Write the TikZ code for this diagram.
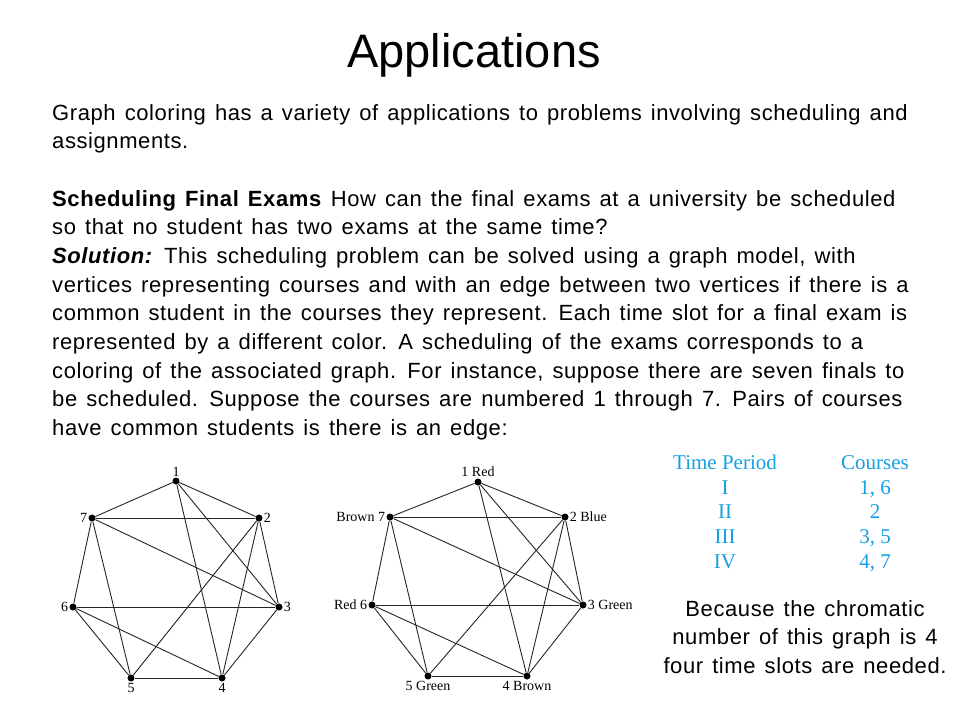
\documentclass[tikz,border=0pt]{standalone}
\usepackage{fontspec}
\setmainfont{Liberation Sans}
\newfontfamily\bodyfont[LetterSpace=2.7, WordSpace=1.35]{Liberation Sans}
\newfontfamily\tabfont{Liberation Serif}
\usetikzlibrary{positioning}
\definecolor{tblue}{RGB}{20,160,228}
\tikzstyle{vertex} = [circle, fill=black, inner sep=0pt, minimum size=7pt, label distance=1pt]
\tikzstyle{edge} = [draw=black!85, line width=0.9pt]
\tikzstyle{txtline} = [anchor=base west, inner sep=0pt, font=\bodyfont\fontsize{22}{25}\selectfont]
\tikzstyle{vlabel} = [font=\tabfont\fontsize{14}{16}\selectfont, inner sep=1pt]
\tikzstyle{tcell} = [anchor=base, inner sep=0pt, text=tblue, font=\tabfont\fontsize{21}{23}\selectfont]

\begin{document}
\begin{tikzpicture}[x=1pt, y=-1pt, every label/.style={vlabel}]
\useasboundingbox [fill=white] (0,0) rectangle (960,720);
\node (title) [anchor=base, inner sep=0pt, font=\fontsize{47}{50}\selectfont] at (474,67) {Applications};

% body text
\node (l1) [txtline] at (52,120) {Graph coloring has a variety of applications to problems involving scheduling and};
\node (l2) [txtline] at (52,148.7) {assignments.};
\node (l3) [txtline] at (52,206) {\textbf{Scheduling Final Exams} How can the final exams at a university be scheduled};
\node (l4) [txtline] at (52,234.7) {so that no student has two exams at the same time?};
\node (l5) [txtline] at (52,263.4) {\textbf{\textit{Solution:}} This scheduling problem can be solved using a graph model, with};
\node (l6) [txtline] at (52,292.1) {vertices representing courses and with an edge between two vertices if there is a};
\node (l7) [txtline] at (52,320.8) {common student in the courses they represent. Each time slot for a final exam is};
\node (l8) [txtline] at (52,349.5) {represented by a different color. A scheduling of the exams corresponds to a};
\node (l9) [txtline] at (52,378.2) {coloring of the associated graph. For instance, suppose there are seven finals to};
\node (l10) [txtline] at (52,406.9) {be scheduled. Suppose the courses are numbered 1 through 7. Pairs of courses};
\node (l11) [txtline] at (52,435.6) {have common students is there is an edge:};

% left graph
\node (g1) [vertex, label=above:1] at (176,481) {};
\node (g2) [vertex, label=right:2] at (259,518) {};
\node (g3) [vertex, label=right:3] at (279,607) {};
\node (g4) [vertex, label=below:4] at (222,678) {};
\node (g5) [vertex, label=below:5] at (131,678) {};
\node (g6) [vertex, label=left:6] at (73,607) {};
\node (g7) [vertex, label=left:7] at (92,518) {};
\draw [edge] (g1) -- (g2);
\draw [edge] (g1) -- (g3);
\draw [edge] (g1) -- (g4);
\draw [edge] (g1) -- (g7);
\draw [edge] (g2) -- (g3);
\draw [edge] (g2) -- (g4);
\draw [edge] (g2) -- (g5);
\draw [edge] (g2) -- (g7);
\draw [edge] (g3) -- (g4);
\draw [edge] (g3) -- (g6);
\draw [edge] (g3) -- (g7);
\draw [edge] (g4) -- (g5);
\draw [edge] (g4) -- (g6);
\draw [edge] (g5) -- (g6);
\draw [edge] (g5) -- (g7);
\draw [edge] (g6) -- (g7);

% right graph, coloured
\node (h1) [vertex, label=above:1 Red] at (478,482) {};
\node (h2) [vertex, label=right:2 Blue] at (565,517) {};
\node (h3) [vertex, label=right:3 Green] at (583,605) {};
\node (h4) [vertex, label=below:4 Brown] at (527,676) {};
\node (h5) [vertex, label=below:5 Green] at (428,676) {};
\node (h6) [vertex, label=left:Red 6] at (372,605) {};
\node (h7) [vertex, label=left:Brown 7] at (390,517) {};
\draw [edge] (h1) -- (h2);
\draw [edge] (h1) -- (h3);
\draw [edge] (h1) -- (h4);
\draw [edge] (h1) -- (h7);
\draw [edge] (h2) -- (h3);
\draw [edge] (h2) -- (h4);
\draw [edge] (h2) -- (h5);
\draw [edge] (h2) -- (h7);
\draw [edge] (h3) -- (h4);
\draw [edge] (h3) -- (h6);
\draw [edge] (h3) -- (h7);
\draw [edge] (h4) -- (h5);
\draw [edge] (h4) -- (h6);
\draw [edge] (h5) -- (h6);
\draw [edge] (h5) -- (h7);
\draw [edge] (h6) -- (h7);

% table
\node (thead) [tcell] at (725,469) {Time Period};
\node (chead) [tcell] at (875,469) {Courses};
\node (t1) [tcell] at (725,494) {I};
\node (c1) [tcell] at (875,494) {1, 6};
\node (t2) [tcell] at (725,518) {II};
\node (c2) [tcell] at (875,518) {2};
\node (t3) [tcell] at (725,543) {III};
\node (c3) [tcell] at (875,543) {3, 5};
\node (t4) [tcell] at (725,568) {IV};
\node (c4) [tcell] at (875,568) {4, 7};

\node (note) [anchor=base, align=center, inner sep=0pt, font=\bodyfont\fontsize{22}{28.5}\selectfont] at (805,673)
  {Because the chromatic\\ number of this graph is 4\\ four time slots are needed.};
\end{tikzpicture}
\end{document}
